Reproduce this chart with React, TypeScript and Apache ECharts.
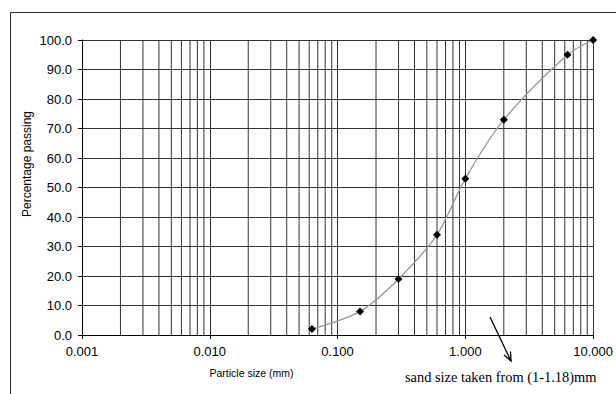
import React, { useEffect, useRef } from "react";
import * as echarts from "echarts";

const particleSizes = [0.063, 0.15, 0.3, 0.6, 1.0, 2.0, 6.3, 10];
const percentPassing = [2, 8, 19, 34, 53, 73, 95, 100];
const minorGridSizes = [
  0.002, 0.003, 0.004, 0.005, 0.006, 0.007, 0.008, 0.009,
  0.02, 0.03, 0.04, 0.05, 0.06, 0.07, 0.08, 0.09,
  0.2, 0.3, 0.4, 0.5, 0.6, 0.7, 0.8, 0.9,
  2, 3, 4, 5, 6, 7, 8, 9,
];
const yRange = [0, 100];
const yAxisTitle = "Percentage passing";
const xAxisTitle = "Particle size (mm)";
const annotation = "sand size taken from (1-1.18)mm";

const SANS = "'Liberation Sans', Arial, sans-serif";
const SERIF = "'Liberation Serif', 'Times New Roman', serif";
const GRID = "#333";

export default function App() {
  const ref = useRef<HTMLDivElement>(null);
  useEffect(() => {
    document.body.style.margin = "0";
    const chart = echarts.init(ref.current!, null, { renderer: "svg" });
    const gridSeries = minorGridSizes.map((v) => ({
      type: "line",
      data: yRange.map((y) => [v, y]),
      symbol: "none",
      silent: true,
      lineStyle: { color: GRID, width: 1 },
      z: 1,
    }));
    chart.setOption({
      animation: false,
      backgroundColor: "#fff",
      grid: { left: 82, right: 18, top: 40, bottom: 59, containLabel: false },
      xAxis: {
        type: "log",
        logBase: 10,
        min: 0.001,
        max: 10,
        axisLine: { show: true, lineStyle: { color: "#000", width: 1 } },
        axisTick: { show: true, length: 4, lineStyle: { color: "#000" } },
        axisLabel: {
          color: "#000",
          fontSize: 13,
          fontFamily: SANS,
          margin: 10,
          showMinLabel: true,
          showMaxLabel: true,
          formatter: (v: number) => Number(v).toFixed(3),
        },
        splitLine: { show: true, lineStyle: { color: GRID, width: 1 } },
      },
      yAxis: {
        type: "value",
        min: 0,
        max: 100,
        interval: 10,
        axisLine: { show: true, lineStyle: { color: "#000", width: 1 } },
        axisTick: { show: true, length: 4, lineStyle: { color: "#000" } },
        axisLabel: {
          color: "#000",
          fontSize: 13,
          fontFamily: SANS,
          margin: 10,
          formatter: (v: number) => Number(v).toFixed(1),
        },
        splitLine: { show: true, lineStyle: { color: GRID, width: 1 } },
      },
      series: [
        ...gridSeries,
        {
          type: "line",
          data: particleSizes.map((x, i) => [x, percentPassing[i]]),
          smooth: 0.3,
          symbol: "diamond",
          symbolSize: 8,
          lineStyle: { color: "#999", width: 1.3 },
          itemStyle: { color: "#000" },
          z: 5,
        },
      ],
      graphic: [
        {
          type: "line",
          shape: { x1: 10.5, y1: 12.5, x2: 10.5, y2: 394 },
          style: { stroke: "#333", lineWidth: 1 },
        },
        {
          type: "line",
          shape: { x1: 10.5, y1: 12.5, x2: 616, y2: 12.5 },
          style: { stroke: "#333", lineWidth: 1 },
        },
        {
          type: "text",
          x: 27,
          y: 164,
          rotation: Math.PI / 2,
          style: {
            text: yAxisTitle,
            fontSize: 12,
            fontFamily: SANS,
            fill: "#000",
            align: "center",
            verticalAlign: "middle",
          },
        },
        {
          type: "text",
          x: 251.5,
          y: 373,
          style: {
            text: xAxisTitle,
            fontSize: 10.5,
            fontFamily: SANS,
            fill: "#000",
            align: "center",
            verticalAlign: "middle",
          },
        },
        {
          type: "text",
          x: 405,
          y: 377,
          style: {
            text: annotation,
            fontSize: 14.4,
            fontFamily: SERIF,
            fill: "#000",
            align: "left",
            verticalAlign: "middle",
          },
        },
        {
          type: "line",
          shape: { x1: 490, y1: 317, x2: 511, y2: 361 },
          style: { stroke: "#000", lineWidth: 1.3 },
        },
        {
          type: "polyline",
          shape: { points: [[504, 355], [511, 361], [510.5, 351.5]] },
          style: { stroke: "#000", lineWidth: 1.3, fill: "none" },
        },
      ],
    });
    return () => chart.dispose();
  }, []);
  return <div ref={ref} style={{ width: 616, height: 394 }} />;
}
